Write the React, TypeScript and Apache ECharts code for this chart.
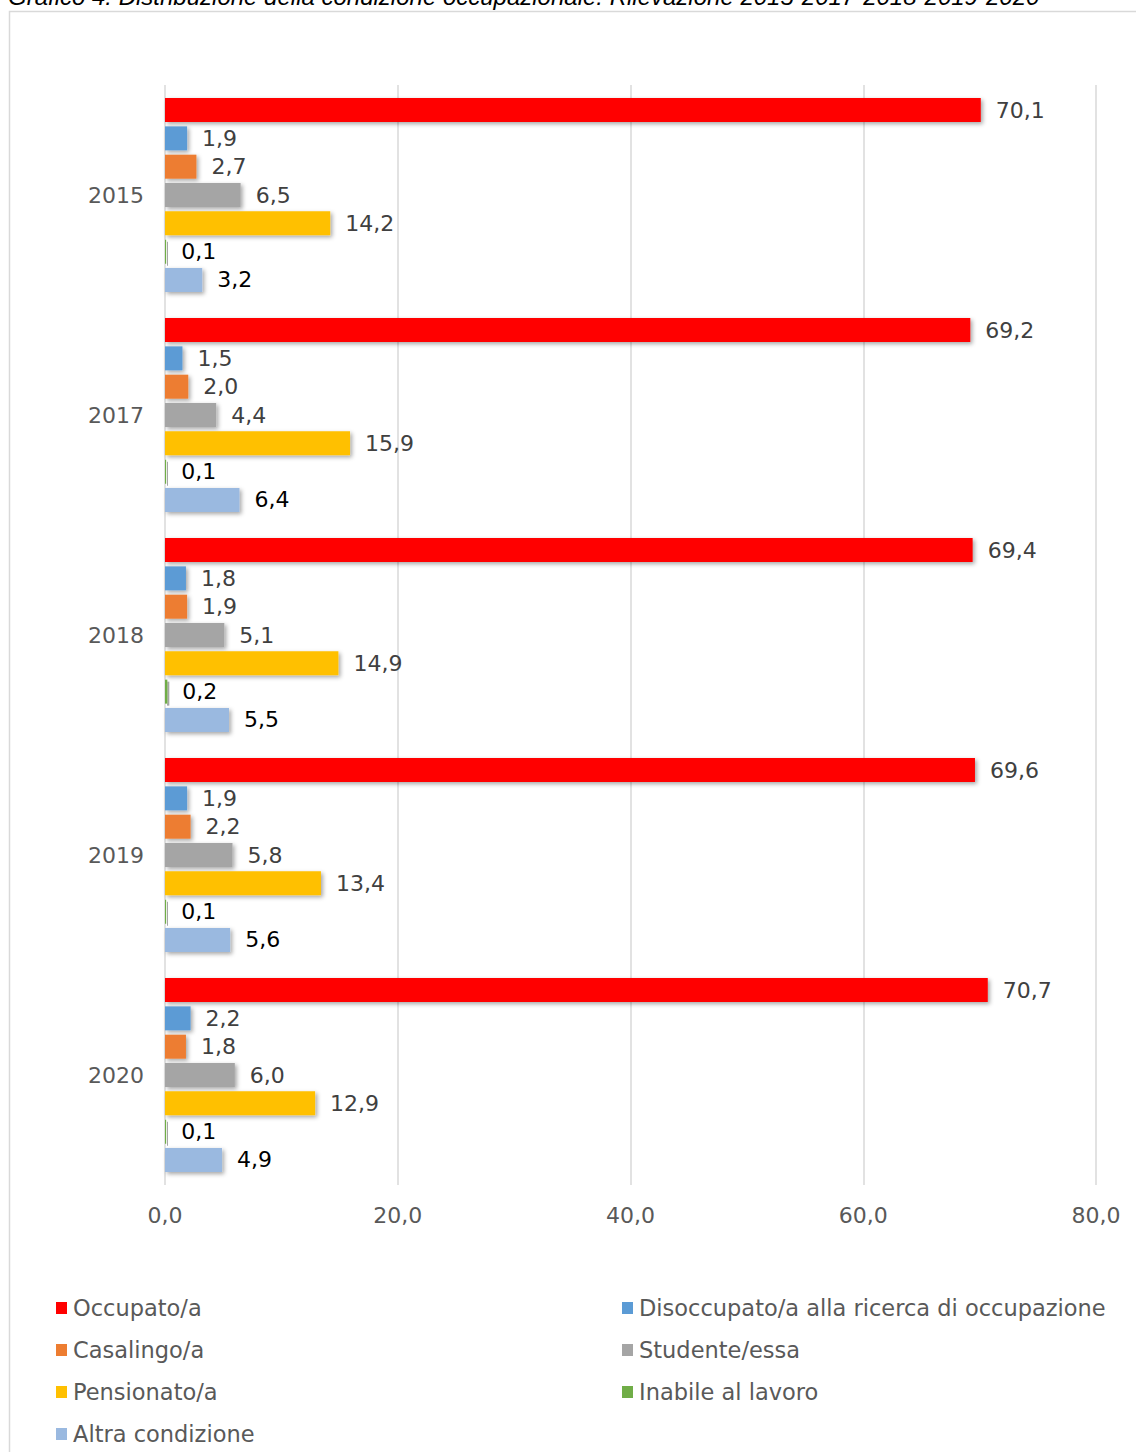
import React, { useEffect, useRef } from "react";
import * as echarts from "echarts";

const years = ["2015", "2017", "2018", "2019", "2020"];
const seriesNames = [
  "Occupato/a",
  "Disoccupato/a alla ricerca di occupazione",
  "Casalingo/a",
  "Studente/essa",
  "Pensionato/a",
  "Inabile al lavoro",
  "Altra condizione",
];
const occupato = [70.1, 69.2, 69.4, 69.6, 70.7];
const disoccupato = [1.9, 1.5, 1.8, 1.9, 2.2];
const casalingo = [2.7, 2.0, 1.9, 2.2, 1.8];
const studente = [6.5, 4.4, 5.1, 5.8, 6.0];
const pensionato = [14.2, 15.9, 14.9, 13.4, 12.9];
const inabile = [0.1, 0.1, 0.2, 0.1, 0.1];
const altra = [3.2, 6.4, 5.5, 5.6, 4.9];
const colors = ["#FF0000", "#5B9BD5", "#ED7D31", "#A5A5A5", "#FFC000", "#70AD47", "#9AB9E0"];
const labelColors = ["#404040", "#404040", "#404040", "#404040", "#404040", "#000000", "#000000"];
const titleText =
  "Grafico 4. Distribuzione della condizione occupazionale. Rilevazione 2015-2017-2018-2019-2020";

const FONT = "DejaVu Sans";

export default function App() {
  const ref = useRef<HTMLDivElement>(null);
  useEffect(() => {
    if (!ref.current) return;
    const chart = echarts.init(ref.current, null, { renderer: "svg" });
    const data = [occupato, disoccupato, casalingo, studente, pensionato, inabile, altra];
    const fmt = (v: number) => v.toFixed(1).replace(".", ",");
    const legendText = { color: "#595959", fontFamily: FONT, fontSize: 22.5 };
    chart.setOption({
      animation: false,
      backgroundColor: "#ffffff",
      grid: { left: 165, right: 40, top: 85, bottom: 267, containLabel: false },
      xAxis: {
        type: "value",
        min: 0,
        max: 80,
        interval: 20,
        axisLine: { show: false },
        axisTick: { show: false },
        splitLine: { lineStyle: { color: "#D9D9D9", width: 1.5 } },
        axisLabel: {
          margin: 19,
          color: "#595959",
          fontFamily: FONT,
          fontSize: 22,
          formatter: (v: number) => fmt(v),
        },
      },
      yAxis: {
        type: "category",
        data: years,
        inverse: true,
        axisLine: { show: false },
        axisTick: { show: false },
        axisLabel: { margin: 21, color: "#595959", fontFamily: FONT, fontSize: 22 },
      },
      legend: [
        {
          data: [seriesNames[0], seriesNames[2], seriesNames[4], seriesNames[6]],
          orient: "vertical",
          left: 56,
          top: 1295,
          height: 200,
          padding: 0,
          itemWidth: 11,
          itemHeight: 12,
          itemGap: 16,
          icon: "rect",
          textStyle: { ...legendText, padding: [0, 0, 0, 1], lineHeight: 26 },
        },
        {
          data: [seriesNames[1], seriesNames[3], seriesNames[5]],
          orient: "vertical",
          left: 622,
          top: 1295,
          height: 200,
          padding: 0,
          itemWidth: 11,
          itemHeight: 12,
          itemGap: 16,
          icon: "rect",
          textStyle: { ...legendText, padding: [0, 0, 0, 1], lineHeight: 26 },
        },
      ],
      graphic: [
        {
          type: "rect",
          shape: { x: 9.5, y: 11.5, width: 1200, height: 1500 },
          style: { fill: "none", stroke: "#D9D9D9", lineWidth: 1.5 },
          silent: true,
        },
        {
          type: "text",
          x: 8,
          y: -16,
          style: {
            text: titleText,
            fontFamily: "Liberation Sans",
            fontStyle: "italic",
            fontSize: 24,
            fill: "#000000",
          },
        },
      ],
      series: seriesNames.map((name, i) => ({
        name,
        type: "bar",
        data: data[i],
        barWidth: 24,
        barGap: "18%",
        itemStyle: {
          color: colors[i],
          shadowBlur: i === 5 ? 0 : 4,
          shadowOffsetX: 2,
          shadowOffsetY: 2,
          shadowColor: "rgba(0,0,0,0.35)",
        },
        label: {
          show: true,
          position: "right",
          distance: 15,
          color: labelColors[i],
          fontFamily: FONT,
          fontSize: 22,
          formatter: (p: any) => fmt(p.value),
        },
      })),
    });
    return () => chart.dispose();
  }, []);
  return (
    <div
      ref={ref}
      style={{ position: "absolute", left: 0, top: 0, width: 1136, height: 1452 }}
    />
  );
}
